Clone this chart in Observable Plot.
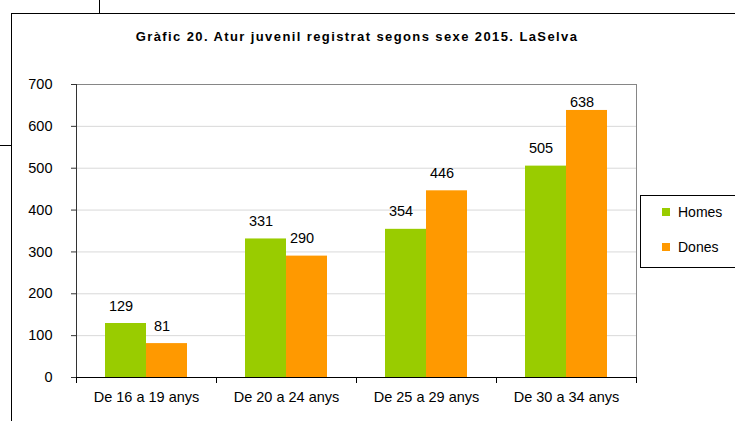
<!DOCTYPE html>
<html>
<head>
<meta charset="utf-8">
<script src="https://cdn.jsdelivr.net/npm/d3@7"></script>
<script src="https://cdn.jsdelivr.net/npm/@observablehq/plot@0.6"></script>
<style>
  html, body { margin: 0; padding: 0; background: #fff; }
  #wrap { position: relative; width: 735px; height: 421px; overflow: hidden; font-family: "Liberation Sans", Arial, sans-serif; }
  #wrap svg { position: absolute; left: 0; top: 0; }
  .line { position: absolute; background: #000; }
  #box { position: absolute; left: 11px; top: 13px; width: 800px; height: 500px; border-left: 1px solid #000; border-top: 1px solid #000; }
  #title { position: absolute; left: 0; width: 714px; top: 29px; text-align: center; font-weight: bold; font-size: 13px; line-height: 16px; letter-spacing: 1.4px; }
  #legend { position: absolute; left: 640px; top: 195px; width: 120px; height: 71px; border: 1px solid #000; background: #fff; }
  .item { position: absolute; left: 21px; font-size: 14px; line-height: 16px; }
  .sw { display: inline-block; width: 8px; height: 8px; margin-right: 8px; vertical-align: 1px; }
</style>
</head>
<body>
<div id="wrap">
  <div class="line" style="left:99px;top:0;width:1px;height:13px"></div>
  <div class="line" style="left:0;top:145px;width:11px;height:1px"></div>
  <div id="box"></div>
  <div id="chart"></div>
  <div id="title"></div>
  <div id="legend"></div>
</div>
<script>
const title = "Gràfic 20. Atur juvenil registrat segons sexe 2015. LaSelva";
const categories = ["De 16 a 19 anys", "De 20 a 24 anys", "De 25 a 29 anys", "De 30 a 34 anys"];
const series = ["Homes", "Dones"];
const homes = [129, 331, 354, 505];
const dones = [81, 290, 446, 638];
const yTicks = [0, 100, 200, 300, 400, 500, 600, 700];
const colors = ["#99CC00", "#FF9900"];

const data = categories.flatMap((c, i) => [
  {cat: c, sex: series[0], value: homes[i]},
  {cat: c, sex: series[1], value: dones[i]}
]);

const W = 735, H = 421, mL = 76, mR = 99, mT = 84, mB = 44;
const innerH = H - mT - mB;
const yMax = yTicks[yTicks.length - 1];
// labels are kept inside the plot area (as the spreadsheet does): clamp 35px below the top
const labelCap = yMax - 35 * yMax / innerH;

const last = categories[categories.length - 1];

const chart = Plot.plot({
  width: W, height: H,
  marginLeft: mL, marginRight: mR, marginTop: mT, marginBottom: mB,
  style: {fontFamily: "'Liberation Sans', Arial, sans-serif", fontSize: "14.5px", background: "transparent", color: "#000"},
  fx: {domain: categories, padding: 0, label: null},
  x: {domain: series, paddingInner: 0, paddingOuter: 0.707, axis: null},
  y: {domain: [0, yMax], label: null},
  color: {domain: series, range: colors},
  marks: [
    Plot.ruleY(yTicks.slice(1, -1), {stroke: "#d9d9d9", strokeWidth: 1}),
    Plot.ruleY([yMax], {stroke: "#868686"}),
    Plot.barY(data, {fx: "cat", x: "sex", y: "value", fill: "sex"}),
    Plot.text(data, {fx: "cat", x: "sex", y: d => Math.min(d.value, labelCap), text: d => String(d.value), lineAnchor: "bottom", dy: -13, dx: -5, fill: "#000", fontSize: 14.5}),
    Plot.frame({anchor: "right", stroke: "#868686", fx: last}),
    Plot.frame({anchor: "left", stroke: "#333", fx: categories[0]}),
    Plot.frame({anchor: "left", stroke: "#000", insetTop: innerH, insetBottom: -5}),
    Plot.frame({anchor: "right", stroke: "#000", insetTop: innerH, insetBottom: -5, fx: last}),
    Plot.ruleY([0], {stroke: "#000"}),
    Plot.axisY({ticks: yTicks, tickSize: 5, tickPadding: 19, label: null, stroke: "#333", fontSize: 14.5}),
    Plot.axisFx({anchor: "bottom", tickSize: 0, tickPadding: 14, label: null, fontSize: 14.5})
  ]
});
document.getElementById("chart").appendChild(chart);

document.getElementById("title").textContent = title;
const legend = document.getElementById("legend");
series.forEach((s, i) => {
  const item = document.createElement("div");
  item.className = "item";
  item.style.top = (8 + i * 35) + "px";
  const sw = document.createElement("span");
  sw.className = "sw";
  sw.style.background = colors[i];
  item.appendChild(sw);
  item.appendChild(document.createTextNode(s));
  legend.appendChild(item);
});
</script>
</body>
</html>
